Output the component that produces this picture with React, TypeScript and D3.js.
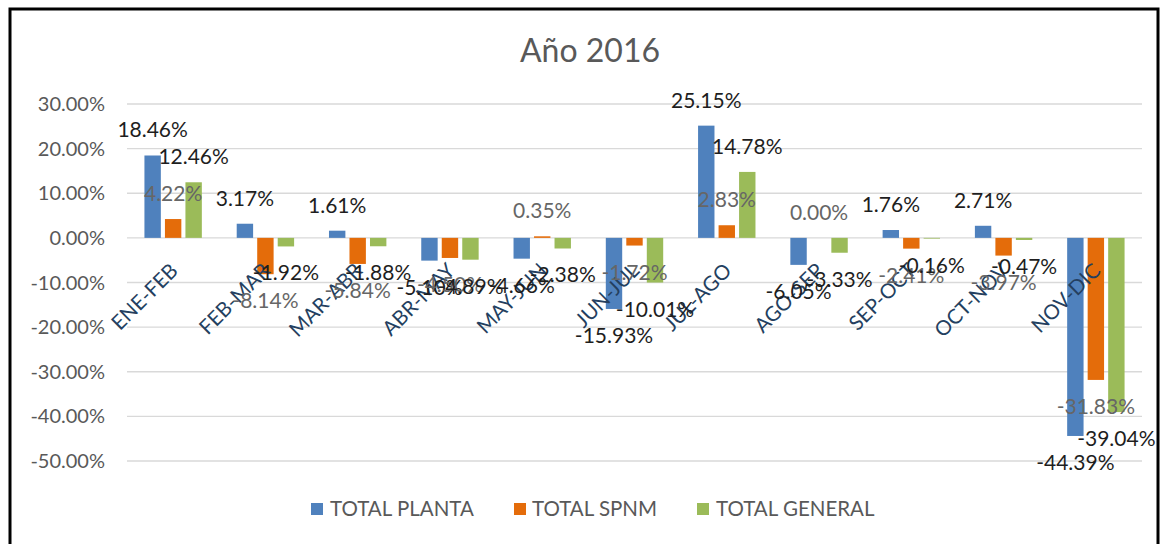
import React from "react";
import * as d3 from "d3";

const categories = ["ENE-FEB","FEB-MAR","MAR-ABR","ABR-MAY","MAY-JUN","JUN-JUL","JUL-AGO","AGO-SEP","SEP-OCT","OCT-NOV","NOV-DIC"];
const seriesNames = ["TOTAL PLANTA","TOTAL SPNM","TOTAL GENERAL"];
const totalPlanta = [18.46, 3.17, 1.61, -5.10, -4.66, -15.93, 25.15, -6.05, 1.76, 2.71, -44.39];
const totalSpnm = [4.22, -8.14, -5.84, -4.50, 0.35, -1.72, 2.83, 0.00, -2.41, -3.97, -31.83];
const totalGeneral = [12.46, -1.92, -1.88, -4.89, -2.38, -10.01, 14.78, -3.33, -0.16, -0.47, -39.04];
const yTicks = [30, 20, 10, 0, -10, -20, -30, -40, -50];

const colors = ["#4F81BD", "#E46C0A", "#9BBB59"];
const labelColors = ["#1e1e1e", "#666666", "#1e1e1e"];
const FONT = "Lato, 'Open Sans', sans-serif";

export default function App() {
  const W = 1164, H = 544;
  const plotLeft = 127, plotRight = 1142;
  const y = d3.scaleLinear().domain([-50, 30]).range([461, 104]);
  const x0 = d3.scaleBand().domain(categories).range([plotLeft, plotRight]).paddingInner(1 - 61.5 / 92.27).paddingOuter((1 - 61.5 / 92.27) / 2);
  const x1 = d3.scaleBand().domain(seriesNames).range([0, x0.bandwidth()]).paddingInner(0.2).paddingOuter(0.1);
  const allSeries = [totalPlanta, totalSpnm, totalGeneral];
  const fmt = (v: number) => v.toFixed(2) + "%";

  const legendItems = [
    { sx: 311, tx: 330 },
    { sx: 514, tx: 532 },
    { sx: 697, tx: 716 },
  ];

  return (
    <svg width={W} height={H} style={{ position: "absolute", left: 0, top: 0, background: "#fff" }} fontFamily={FONT}>
      <rect x={0} y={0} width={W} height={H} fill="#fff" />
      <rect x={10} y={9} width={1148} height={560} fill="none" stroke="#000" strokeWidth={3} />
      <text x={590} y={62} textAnchor="middle" fontSize={32} fill="#595959">Año 2016</text>
      {yTicks.map((t) => (
        <g key={t}>
          <line x1={plotLeft} x2={plotRight} y1={y(t)} y2={y(t)} stroke="#d9d9d9" strokeWidth={1.3} />
          <text x={105} y={y(t) + 7} textAnchor="end" fontSize={20} fill="#595959">{t.toFixed(2) + "%"}</text>
        </g>
      ))}
      {categories.map((c, ci) => (
        <g key={c}>
          {allSeries.map((s, si) => {
            const v = s[ci];
            const bx = (x0(c) as number) + (x1(seriesNames[si]) as number);
            const top = y(Math.max(0, v));
            const h = Math.abs(y(v) - y(0));
            return <rect key={si} x={bx} y={top} width={x1.bandwidth()} height={h} fill={colors[si]} />;
          })}
        </g>
      ))}
      {categories.map((c) => {
        const cx = (x0(c) as number) + x0.bandwidth() / 2;
        return (
          <text key={c} transform={`translate(${cx + 6},${272}) rotate(-45)`} textAnchor="end" fontSize={20.5} fill="#243F60">{c}</text>
        );
      })}
      {categories.map((c, ci) => (
        <g key={c}>
          {allSeries.map((s, si) => {
            const v = s[ci];
            const bx = (x0(c) as number) + (x1(seriesNames[si]) as number) + x1.bandwidth() / 2;
            const ly = v >= 0 ? y(v) - 18 : y(v) + 34;
            return <text key={si} x={bx} y={ly} textAnchor="middle" fontSize={21} fill={labelColors[si]}>{fmt(v)}</text>;
          })}
        </g>
      ))}
      {seriesNames.map((n, i) => (
        <g key={n}>
          <rect x={legendItems[i].sx} y={503} width={12} height={12} fill={colors[i]} />
          <text x={legendItems[i].tx} y={516} fontSize={20.5} fill="#595959">{n}</text>
        </g>
      ))}
    </svg>
  );
}
